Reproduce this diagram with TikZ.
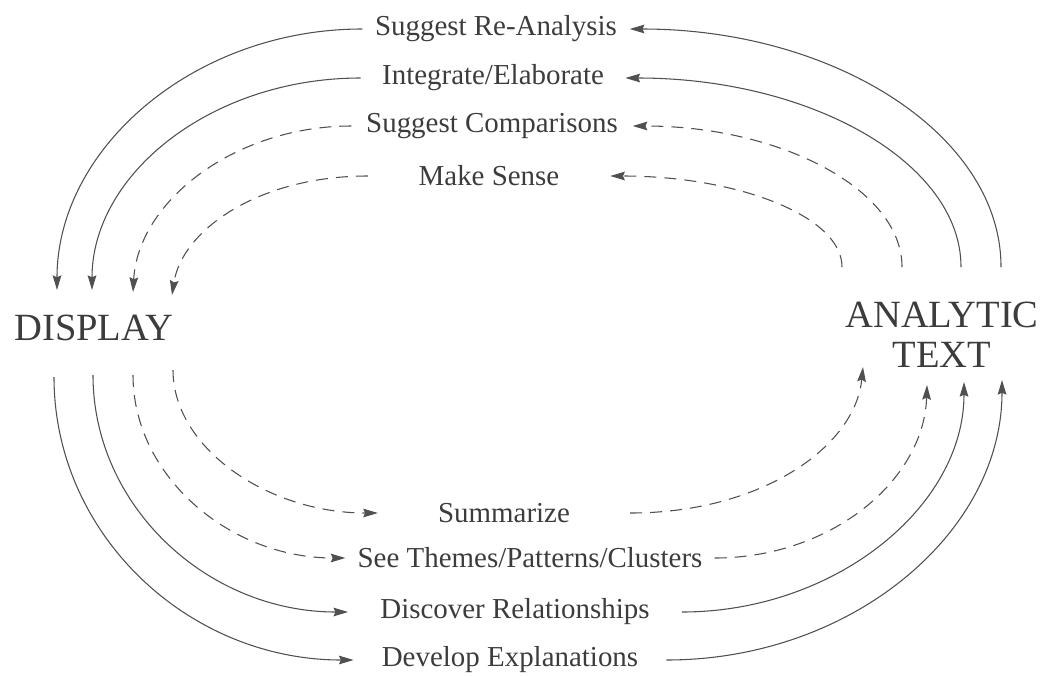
\documentclass[tikz,border=0pt]{standalone}
\usepackage{fontspec}
\setmainfont{Liberation Serif}
\usepackage{tikz}
\usetikzlibrary{arrows.meta}
\definecolor{inkgray}{RGB}{60, 60, 60}
\definecolor{linegray}{RGB}{80, 80, 80}
\tikzstyle{stage} = [inner ysep=2pt, text=inkgray, font=\fontsize{21.7}{24}\selectfont]
\tikzstyle{pole} = [inner sep=0pt, text=inkgray, align=center, font=\fontsize{28.9}{30}\selectfont]
\tikzstyle{flow} = [line width=0.8pt, draw=linegray, -{Stealth[length=11pt, width=6.5pt, inset=1.5pt]}]
\tikzstyle{hunch} = [flow, dash pattern=on 9pt off 6pt]

\begin{document}
\begin{tikzpicture}[x=0.75pt, y=-0.75pt]
      \useasboundingbox (0,0) rectangle (1044,675);
      \node[pole] (display) at (94,328) {DISPLAY};
      \node[pole] (analytic) at (942,335) {ANALYTIC\\TEXT};

      \node[stage, inner xsep=9.4pt] (reanalysis) at (496,29) {Suggest Re-Analysis};
      \node[stage, inner xsep=16pt] (integrate) at (493,78) {Integrate/Elaborate};
      \node[stage, inner xsep=11pt] (compare) at (492,126) {Suggest Comparisons};
      \node[stage, inner xsep=38pt] (sense) at (489,176) {Make Sense};
      \node[stage, inner xsep=45pt] (summarize) at (504,513) {Summarize};
      \node[stage, inner xsep=9pt] (themes) at (530,558) {See Themes/Patterns/Clusters};
      \node[stage, inner xsep=24pt] (discover) at (515,612) {Discover Relationships};
      \node[stage, inner xsep=21pt] (develop) at (510,660) {Develop Explanations};

      \coordinate (d1) at (57,290);
      \coordinate (d2) at (92,290);
      \coordinate (d3) at (133,292);
      \coordinate (d4) at (172,295);
      \coordinate (a1) at (1001,267);
      \coordinate (a2) at (961,267);
      \coordinate (a3) at (902,267);
      \coordinate (a4) at (842,267);
      \coordinate (e1) at (54,377);
      \coordinate (e2) at (93,375);
      \coordinate (e3) at (133,375);
      \coordinate (e4) at (173,370);
      \coordinate (t1) at (1002,380);
      \coordinate (t2) at (964,382);
      \coordinate (t3) at (927,385);
      \coordinate (t4) at (863,367);

      \draw[flow] (reanalysis.west) .. controls +(-168,0) and +(0,-142) .. (d1);
      \draw[flow] (integrate.west) .. controls +(-149,0) and +(0,-116) .. (d2);
      \draw[hunch] (compare.west) .. controls +(-116,0) and +(5,-91) .. (d3);
      \draw[hunch] (sense.west) .. controls +(-109,0) and +(10,-65) .. (d4);

      \draw[flow] (a1) .. controls +(0,-132) and +(205,0) .. (reanalysis.east);
      \draw[flow] (a2) .. controls +(0,-104) and +(186,0) .. (integrate.east);
      \draw[hunch] (a3) .. controls +(0,-78) and +(147,0) .. (compare.east);
      \draw[hunch] (a4) .. controls +(0,-51) and +(127,0) .. (sense.east);

      \draw[flow] (e1) .. controls +(0,157) and +(-166,0) .. (develop.west);
      \draw[flow] (e2) .. controls +(0,131) and +(-141,0) .. (discover.west);
      \draw[hunch] (e3) .. controls +(0,101) and +(-116,0) .. (themes.west);
      \draw[hunch] (e4) .. controls +(0,78) and +(-110,0) .. (summarize.west);

      \draw[flow] (develop.east) .. controls +(185,0) and +(0,153) .. (t1);
      \draw[flow] (discover.east) .. controls +(153,0) and +(0,125) .. (t2);
      \draw[hunch] (themes.east) .. controls +(117,0) and +(-3,95) .. (t3);
      \draw[hunch] (summarize.east) .. controls +(131,0) and +(-8,80) .. (t4);
    \end{tikzpicture}
\end{document}
